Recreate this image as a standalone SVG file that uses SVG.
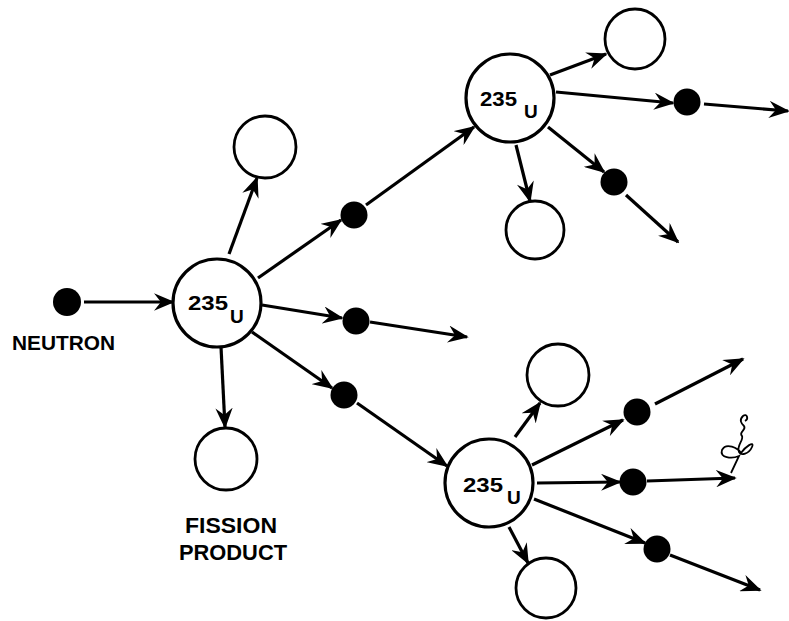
<svg xmlns="http://www.w3.org/2000/svg" width="789" height="621" viewBox="0 0 789 621">
<style>
.nuc{fill:#fff;stroke:#000;stroke-width:3.2}
.fp{fill:#fff;stroke:#000;stroke-width:2.8}
.n{fill:#000}
.c line{stroke:#000;stroke-width:3.2;marker-end:url(#ah)}
.t{font-family:"Liberation Sans",Arial,sans-serif;font-weight:bold;fill:#000}
</style>
<defs>
<marker id="ah" viewBox="0 0 12 10" refX="11" refY="5" markerWidth="6.5" markerHeight="5.4" orient="auto" markerUnits="strokeWidth">
<path d="M0,0 L12,5 L0,10 L4,5 z" fill="#000"/>
</marker>
</defs>
<rect width="789" height="621" fill="#fff"/>
<g class="c" id="connectors">
<line x1="84" y1="302" x2="173" y2="302"/>
<line x1="229" y1="254" x2="257" y2="178"/>
<line x1="258" y1="278" x2="341" y2="220"/>
<line x1="366" y1="205" x2="474" y2="127"/>
<line x1="262" y1="305" x2="342" y2="318"/>
<line x1="370" y1="322" x2="467" y2="337"/>
<line x1="252" y1="332" x2="332" y2="388"/>
<line x1="357" y1="403" x2="447" y2="466"/>
<line x1="221" y1="347" x2="225" y2="427"/>
<line x1="550" y1="75" x2="606" y2="54"/>
<line x1="556" y1="92" x2="673" y2="103"/>
<line x1="704" y1="104" x2="788" y2="111"/>
<line x1="548" y1="127" x2="604" y2="172"/>
<line x1="626" y1="195" x2="678" y2="242"/>
<line x1="516" y1="145" x2="530" y2="201"/>
<line x1="515" y1="437" x2="540" y2="403"/>
<line x1="509" y1="527" x2="528" y2="563"/>
<line x1="532" y1="465" x2="623" y2="420"/>
<line x1="655" y1="404" x2="743" y2="359"/>
<line x1="537" y1="483" x2="620" y2="482"/>
<line x1="647" y1="481" x2="735" y2="478"/>
<line x1="534" y1="499" x2="645" y2="543"/>
<line x1="670" y1="555" x2="760" y2="590"/>
</g>
<g id="neutron-in">
<circle class="n" cx="67" cy="302" r="14"/>
<text class="t" x="12" y="350" font-size="21" textLength="103" lengthAdjust="spacingAndGlyphs">NEUTRON</text>
</g>
<g id="u235-main">
<circle class="nuc" cx="217" cy="303" r="44"/>
<text class="t" x="188" y="310" font-size="21" textLength="40" lengthAdjust="spacingAndGlyphs">235</text>
<text class="t" x="230" y="323" font-size="19">U</text>
</g>
<g id="fp-main-up"><circle class="fp" cx="265" cy="147" r="31"/></g>
<g id="fp-main-down">
<circle class="fp" cx="226" cy="459" r="31"/>
<text class="t" x="231" y="533" font-size="22" text-anchor="middle" textLength="92" lengthAdjust="spacingAndGlyphs">FISSION</text>
<text class="t" x="233" y="560" font-size="22" text-anchor="middle" textLength="108" lengthAdjust="spacingAndGlyphs">PRODUCT</text>
</g>
<g id="n-main-1"><circle class="n" cx="354" cy="215" r="13.5"/></g>
<g id="n-main-2"><circle class="n" cx="356" cy="321" r="13.5"/></g>
<g id="n-main-3"><circle class="n" cx="344" cy="395" r="13.5"/></g>
<g id="u235-top">
<circle class="nuc" cx="510" cy="98" r="44"/>
<text class="t" x="480" y="106" font-size="21" textLength="37" lengthAdjust="spacingAndGlyphs">235</text>
<text class="t" x="524" y="118" font-size="19">U</text>
</g>
<g id="fp-top-up"><circle class="fp" cx="635" cy="39" r="30"/></g>
<g id="fp-top-down"><circle class="fp" cx="535" cy="230" r="29"/></g>
<g id="n-top-1"><circle class="n" cx="687" cy="102" r="13.5"/></g>
<g id="n-top-2"><circle class="n" cx="614" cy="182" r="13.5"/></g>
<g id="u235-bottom">
<circle class="nuc" cx="489" cy="483" r="44"/>
<text class="t" x="463" y="492" font-size="21" textLength="40" lengthAdjust="spacingAndGlyphs">235</text>
<text class="t" x="507" y="504" font-size="19">U</text>
</g>
<g id="fp-bottom-up"><circle class="fp" cx="558" cy="375" r="31"/></g>
<g id="fp-bottom-down"><circle class="fp" cx="546" cy="588" r="30"/></g>
<g id="n-bottom-1"><circle class="n" cx="637" cy="412" r="13.5"/></g>
<g id="n-bottom-2"><circle class="n" cx="633" cy="482" r="13.5"/></g>
<g id="n-bottom-3"><circle class="n" cx="657" cy="549" r="13.5"/></g>
<path d="M731,473 L739,456 C732,459 719,458 722,450 C726,442 738,448 741,453 C745,447 755,440 752,447 C749,454 741,456 739,452 C736,446 744,440 742,436 C738,432 747,430 744,426 C741,423 739,420 743,416 C747,413 749,419 745,421" fill="none" stroke="#000" stroke-width="1.8"/>
</svg>
